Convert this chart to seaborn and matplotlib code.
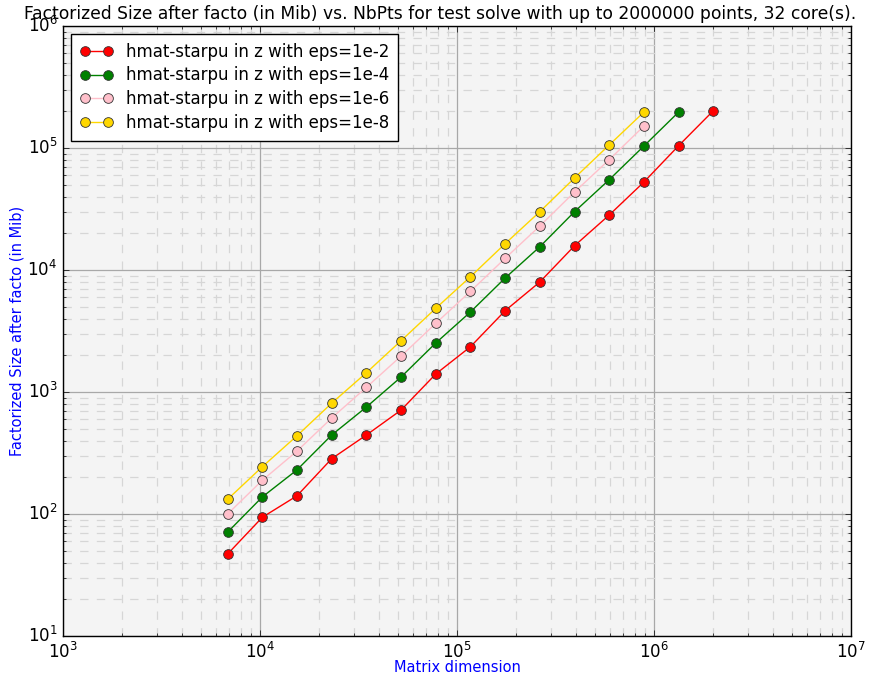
import numpy as np
import pandas as pd
import matplotlib
matplotlib.use('Agg')
import matplotlib.pyplot as plt
import seaborn as sns

# 数据: 矩阵维度与分解后大小 (Mib)
nb_pts = [6851, 10277, 15415, 23122, 34683, 52025, 78037, 117055,
          175583, 263374, 395062, 592593, 888889, 1333333, 2000000]

size_eps2 = [47, 94, 141, 284, 444, 711, 1405, 2350, 4640, 7980,
             15800, 28230, 52600, 104400, 202000]
size_eps4 = [71, 138, 230, 444, 753, 1327, 2522, 4530, 8600, 15520,
             30070, 55000, 103800, 197000]
size_eps6 = [100, 189, 328, 612, 1092, 1970, 3655, 6690, 12470, 22950,
             43600, 80200, 151400]
size_eps8 = [132, 244, 438, 810, 1439, 2635, 4850, 8810, 16440, 30070,
             56800, 105900, 197000]

labels = ['hmat-starpu in z with eps=1e-2', 'hmat-starpu in z with eps=1e-4',
          'hmat-starpu in z with eps=1e-6', 'hmat-starpu in z with eps=1e-8']
colors = ['red', 'green', 'pink', 'gold']
series = [size_eps2, size_eps4, size_eps6, size_eps8]

plt.style.use('classic')
plt.rcParams['font.family'] = ['DejaVu Sans']

fig = plt.figure(figsize=(8.69, 6.76), dpi=100, facecolor='white')
ax = fig.add_axes([63 / 869, 1 - 636 / 676, (851 - 63) / 869, (636 - 26) / 676])
ax.set_facecolor('#f4f4f4')

for lab, col, vals in zip(labels, colors, series):
    df = pd.DataFrame({'NbPts': nb_pts[:len(vals)], 'size': vals})
    sns.lineplot(data=df, x='NbPts', y='size', ax=ax, color=col, label=lab,
                 marker='o', markersize=7, markerfacecolor=col,
                 markeredgecolor='#333333', markeredgewidth=0.6, linewidth=1.0)

ax.set_xscale('log')
ax.set_yscale('log')
ax.set_xlim(1e3, 1e7)
ax.set_ylim(1e1, 1e6)

ax.grid(True, which='major', color='#a8a8a8', linestyle='-', linewidth=0.9)
ax.grid(True, which='minor', color='#d6d6d6', linestyle='--', linewidth=0.9, dashes=(6, 6))
ax.set_axisbelow(True)

ax.tick_params(labelsize=12)
ax.set_xlabel('Matrix dimension', color='blue', fontsize=10.5, labelpad=-1)
ax.set_ylabel('Factorized Size after facto (in Mib)', color='blue', fontsize=10.5, labelpad=2)
ax.text(0.478, 1.005, 'Factorized Size after facto (in Mib) vs. NbPts for test solve with up to 2000000 points, 32 core(s).',
        transform=ax.transAxes, ha='center', va='bottom', fontsize=12.3)

leg = ax.legend(loc='upper left', fontsize=12, numpoints=2, fancybox=False,
                borderpad=0.5, handlelength=2.0, labelspacing=0.35)
leg.get_frame().set_edgecolor('black')

fig.savefig('out.png', dpi=100, facecolor='white')
